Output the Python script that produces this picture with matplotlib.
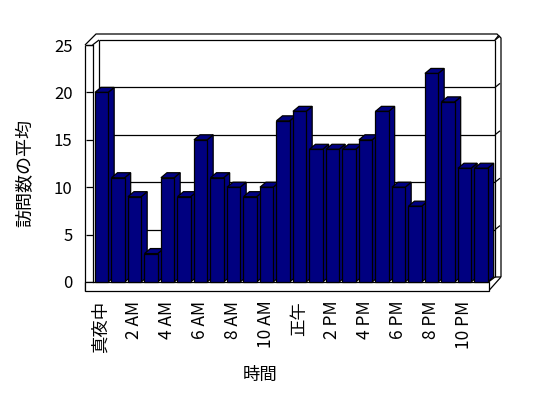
import numpy as np
import matplotlib.pyplot as plt
from matplotlib.patches import Polygon, Rectangle

plt.rcParams['font.family'] = ['Noto Sans CJK JP', 'DejaVu Sans']

# ── data: average number of visits per hour of the day ──
hours = list(range(24))
visits = [20, 11, 9, 3, 11, 9, 15, 11, 10, 9, 10, 17,
          18, 14, 14, 14, 15, 18, 10, 8, 22, 19, 12, 12]
tick_labels = ["真夜中", "2 AM", "4 AM", "6 AM", "8 AM", "10 AM",
               "正午", "2 PM", "4 PM", "6 PM", "8 PM", "10 PM"]
y_ticks = [0, 5, 10, 15, 20, 25]

NAVY = "#000080"
LW = 0.9
W, H = 548, 398

fig = plt.figure(figsize=(W / 100, H / 100), dpi=100)
# front plane of the plot area (pixels): x 92.5..488.5, y 45..282
ax = fig.add_axes([92.5 / W, (H - 282) / H, 396 / W, 237 / H])
ax.set_xlim(0, 24)
ax.set_ylim(0, 25)

px = 24 / 396      # x data units per pixel
py = 25 / 237      # y data units per pixel
DX, DY = 6.5 * px, 5 * py     # depth of back wall
BDX, BDY = 6 * px, 5 * py     # depth of the bars


def line(xs, ys, z=1):
    ax.plot(xs, ys, color="black", lw=LW, clip_on=False, zorder=z,
            solid_capstyle="butt")


# back wall + gridlines (and their little continuation on the right wall)
for v in y_ticks[1:]:
    line([DX, 24 + DX], [v + DY, v + DY])
    line([24 + DX, 24 + DX + 5 * px], [v + DY, v + DY + 4 * py])
line([DX, DX], [DY, 25 + DY])
line([24 + DX, 24 + DX], [DY, 25 + DY])
line([0, DX], [25, 25 + DY])

# outer frame (wall thickness)
ox = 408.5 * px
line([-7.5 * px, -7.5 * px], [25, -9 * py], z=2)
line([-7.5 * px, 0], [25, 25])
line([-7.5 * px, 3.5 * px, 404.5 * px, ox, ox],
     [25, 25 + 11 * py, 25 + 11 * py, 25 + 7 * py, DY])
line([24 + DX, 24 + DX + 3.5 * px], [25 + DY, 25 + DY + 4.5 * py])

# floor
ax.add_patch(Rectangle((-7.5 * px, -9 * py), 24 + 7.5 * px, 9 * py,
                       fc="white", ec="black", lw=LW, clip_on=False, zorder=2))
line([24, 24 + DX, ox], [0, DY, DY])
line([24, ox], [-9 * py, DY])

# bars with side and top faces
bars = ax.bar(np.array(hours) + 0.15, visits, width=0.8, align="edge",
              color=NAVY, edgecolor="black", linewidth=LW)
for i, (rect, v) in enumerate(zip(bars, visits)):
    x0 = rect.get_x()
    x1 = x0 + rect.get_width()
    z = 3 + i * 0.1
    rect.set_zorder(z + 0.05)
    rect.set_clip_on(False)
    side = Polygon([(x1, 0), (x1 + BDX, BDY), (x1 + BDX, v + BDY), (x1, v)],
                   closed=True, fc=NAVY, ec="black", lw=LW, zorder=z, clip_on=False)
    top = Polygon([(x0, v), (x1, v), (x1 + BDX, v + BDY), (x0 + BDX, v + BDY)],
                  closed=True, fc=NAVY, ec="black", lw=LW, zorder=z, clip_on=False)
    ax.add_patch(side)
    ax.add_patch(top)

# axes styling
for s in ["top", "right", "bottom"]:
    ax.spines[s].set_visible(False)
ax.spines["left"].set_linewidth(LW)
ax.spines["left"].set_zorder(2)
ax.set_facecolor("none")

ax.set_yticks(y_ticks)
ax.tick_params(axis="y", length=7.5 * 0.72, width=LW, pad=9, labelsize=12)

ax.set_xticks([h + 0.5 for h in hours[::2]])
ax.set_xticklabels(tick_labels, rotation=90, fontsize=12.5)
ax.set_xticks(hours[1:], minor=True)
ax.tick_params(axis="x", which="major", length=0, pad=13.5)
ax.tick_params(axis="x", which="minor", length=9 * 0.72, width=LW, direction="out")

fig.text(25.5 / W, 1 - 173 / H, "訪問数の平均", rotation=90,
         ha="center", va="center", fontsize=13)
fig.text(260 / W, 1 - 375 / H, "時間", ha="center", va="center", fontsize=12.5)

fig.savefig("out.png", dpi=100)
